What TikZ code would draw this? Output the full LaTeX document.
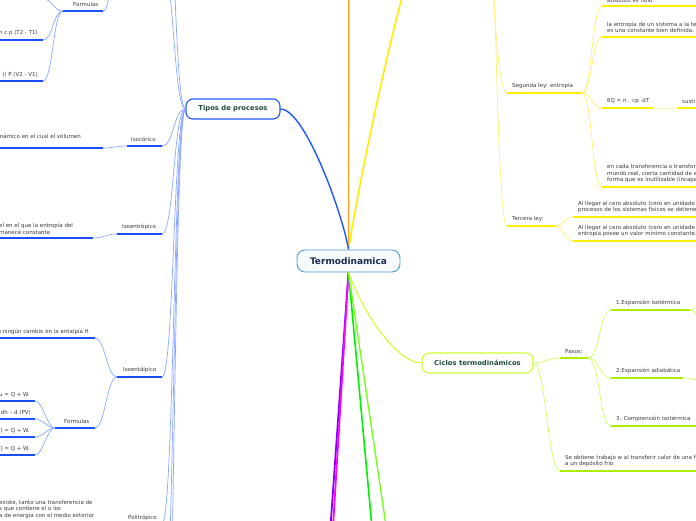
\documentclass[tikz,border=0pt]{standalone}
\usepackage{fontspec}
\setmainfont{DejaVu Sans}
\definecolor{bmain}{HTML}{1F55FF}
\definecolor{bthin}{HTML}{8AA8FF}
\definecolor{bline}{HTML}{1A4FFF}
\definecolor{ymain}{HTML}{FFEE00}
\definecolor{ythin}{HTML}{FFF27A}
\definecolor{orng}{HTML}{FFA726}
\definecolor{limec}{HTML}{CCFF33}
\definecolor{limeul}{HTML}{AAEE00}
\definecolor{limethin}{HTML}{D2FF70}
\definecolor{purp}{HTML}{7F00FF}
\definecolor{magn}{HTML}{FF00FF}
\definecolor{grn}{HTML}{00F000}
\definecolor{lgrn}{HTML}{77FF22}
\definecolor{txt}{HTML}{3A3A3A}
\definecolor{ngreen}{HTML}{1E4D3B}
\definecolor{navy}{HTML}{1B2A4E}
\definecolor{termb}{HTML}{4A9AD4}
\definecolor{termfill}{HTML}{F7FBFE}
\newcommand{\mmR}[4][]{\draw[#1] (#2) .. controls +(#4,0) and +(-#4,0) .. (#3);}
\newcommand{\mmL}[4][]{\draw[#1] (#2) .. controls +(-#4,0) and +(#4,0) .. (#3);}
\tikzset{
  lbl/.style={font=\fontsize{5.5}{6.4}\selectfont, text=txt, inner sep=0pt, align=left},
  lblR/.style={lbl, anchor=south west},
  lblL/.style={lbl, anchor=south east},
  ulB/.style={draw=bline, line width=1.3},
  thB/.style={draw=bthin, line width=0.7},
  ulY/.style={draw=ymain, line width=1.3},
  thY/.style={draw=ythin, line width=0.8},
  ulG/.style={draw=limeul, line width=1.3},
  thG/.style={draw=limethin, line width=0.8},
  termnode/.style={draw=termb, line width=0.9, fill=termfill, rounded corners=8pt,
    minimum width=103pt, minimum height=22pt, inner sep=0pt,
    font=\fontsize{9}{10}\selectfont\bfseries, text=navy},
  topicnode/.style={line width=1.1, fill=white, rounded corners=7pt,
    minimum height=20pt, inner sep=0pt,
    font=\fontsize{6.8}{8}\selectfont\bfseries, text=ngreen}
}
\begin{document}
\begin{tikzpicture}[x=1pt,y=-1pt]
\useasboundingbox (0,0) rectangle (696,520);
\clip (0,0) rectangle (696,520);

% ---------- main nodes ----------
\node[termnode] (term) at (348.5,261) {Termodinamica};
\node[topicnode, draw=bmain, minimum width=94pt] (tipos) at (233,109) {Tipos de procesos};
\node[topicnode, draw=limec, minimum width=111pt] (ciclos) at (477.5,363) {Ciclos termodinámicos};

% ---------- main connectors ----------
\coordinate (oTop) at (349,-10);
\coordinate (yTop) at (404,-10);
\coordinate (purpEnd) at (330.8,522);
\coordinate (magnEnd) at (333.3,522);
\coordinate (grnEnd) at (371.5,522);
\coordinate (lgrnEnd) at (385.5,522);
\draw[orng, line width=1.5] (term.north) -- (oTop);
\draw[ymain, line width=1.6] (term.north) .. controls (356,200) and (381,75) .. (yTop);
\draw[bmain, line width=1.4] (tipos.east) .. controls (305,109) and (343,215) .. (term.north);
\draw[purp, line width=1.8] (term.south) -- (purpEnd);
\draw[magn, line width=1.8] (term.south) -- (magnEnd);
\draw[grn, line width=1.6] (term.south) -- (grnEnd);
\draw[lgrn, line width=1.4] (term.south) -- (lgrnEnd);
\draw[limec, line width=1.1] (term.south) .. controls (362,310) and (395,362) .. (ciclos.west);

% ---------- Tipos de procesos: branches ----------
\coordinate (isobA) at (117,-35);
\coordinate (isobB) at (162,-35);
\coordinate (isotB) at (162,-180);
\coordinate (icA) at (127,146);  \coordinate (icB) at (162,146);
\coordinate (ieA) at (117,234);  \coordinate (ieB) at (162,234);
\coordinate (ihA) at (117,377);  \coordinate (ihB) at (162,377);
\coordinate (ipA) at (117,524);  \coordinate (ipB) at (162,524);
\coordinate (ixB) at (162,650);
\coordinate (iyB) at (162,800);
\mmL[thB]{tipos.west}{isobB}{12}
\mmL[thB]{tipos.west}{isotB}{12}
\mmL[thB]{tipos.west}{icB}{12}
\mmL[thB]{tipos.west}{ieB}{12}
\mmL[thB]{tipos.west}{ihB}{12}
\mmL[thB]{tipos.west}{ipB}{12}
\mmL[thB]{tipos.west}{ixB}{12}
\mmL[thB]{tipos.west}{iyB}{12}

\draw[ulB] (icA) -- (icB);
\node[lblR] (isocorico) at (131,142) {Isocórico};
\draw[ulB] (ieA) -- (ieB);
\node[lblR] (isoentro) at (122,230) {Isoentrópico};
\draw[ulB] (ihA) -- (ihB);
\node[lblR] (isoental) at (123,373) {Isoentálpico};
\draw[ulB] (ipA) -- (ipB);
\node[lblR] (politro) at (128,520.5) {Politrópico};

% Formulas (top)
\coordinate (f1A) at (63,11); \coordinate (f1B) at (103,11);
\draw[ulB] (f1A) -- (f1B);
\node[lblR] (form1) at (73,7) {Formulas};
\mmR[thB]{f1B}{isobA}{8}
\coordinate (f1aB) at (43,-1); \coordinate (f1aA) at (-5,-1);
\coordinate (f1bB) at (43,40); \coordinate (f1bA) at (0,40);
\coordinate (f1cB) at (43,81); \coordinate (f1cA) at (0,81);
\mmL[thB]{f1A}{f1aB}{10}
\mmL[thB]{f1A}{f1bB}{10}
\mmL[thB]{f1A}{f1cB}{10}
\draw[ulB] (f1aA) -- (f1aB);
\draw[ulB] (f1bA) -- (f1bB);
\draw[ulB] (f1cA) -- (f1cB);
\node[lblL] (fb) at (38,36) {n c p (T2 - T1)};
\node[lblL] (fc) at (38,77) {)) P (V2 - V1)};

% Isocorico child
\coordinate (icc1A) at (0,148); \coordinate (icc1B) at (103,148);
\draw[ulB] (icc1A) -- (icc1B);
\mmL[thB]{icA}{icc1B}{10}
\node[lblL] (icctext) at (81,138.5) {inámico en el cual el volumen};

% Isoentropico child
\coordinate (iec1A) at (0,238); \coordinate (iec1B) at (93,238);
\draw[ulB] (iec1A) -- (iec1B);
\mmL[thB]{ieA}{iec1B}{10}
\node[lblR] (iectext) at (-1,234.5) {el en el que la entropía del\\manece constante};

% Isoentalpico children
\coordinate (ihc1A) at (0,338); \coordinate (ihc1B) at (95,338);
\draw[ulB] (ihc1A) -- (ihc1B);
\mmL[thB]{ihA}{ihc1B}{10}
\node[lblL] (ihctext) at (89,334.5) {n ningún cambio en la entalpía H};
\coordinate (f2A) at (55,428); \coordinate (f2B) at (95,428);
\draw[ulB] (f2A) -- (f2B);
\mmL[thB]{ihA}{f2B}{10}
\node[lblR] (form2) at (64,424) {Formulas};
\coordinate (f2aA) at (0,401); \coordinate (f2aB) at (35,401);
\coordinate (f2bA) at (0,419); \coordinate (f2bB) at (35,419);
\coordinate (f2cA) at (0,437); \coordinate (f2cB) at (35,437);
\coordinate (f2dA) at (0,455); \coordinate (f2dB) at (35,455);
\foreach \c in {f2a,f2b,f2c,f2d}{
  \draw[ulB] (\c A) -- (\c B);
  \mmL[thB]{f2A}{\c B}{8}
}
\node[lblL] (f2at) at (30,397) {u = Q + W.};
\node[lblL] (f2bt) at (31,415) {dh – d (PV)};
\node[lblL] (f2ct) at (30,433) {) = Q + W.};
\node[lblL] (f2dt) at (30,451) {] = Q + W.};

% Politropico child
\node[lblR] (iptext) at (-1,518.5) {existe, tanto una transferencia de\\s que contiene el o los\\a de energía con el medio exterior};

% ---------- Leyes (yellow) ----------
\coordinate (leyes) at (490,-60);
\coordinate (leyes2) at (493,-60);
\coordinate (segA) at (507,93); \coordinate (segB) at (582,93);
\coordinate (terA) at (507,226); \coordinate (terB) at (555,226);
\draw[thY] (leyes) .. controls (493,-20) and (497,93) .. (segA);
\draw[thY] (leyes2) .. controls (496,40) and (499,226) .. (terA);
\draw[ulY] (segA) -- (segB);
\node[lblR] (segunda) at (512,89) {Segunda ley: entropía};
\draw[ulY] (terA) -- (terB);
\node[lblR] (tercera) at (512,222) {Tercera ley:};

\coordinate (s1A) at (602,6);   \coordinate (s1B) at (700,6);
\coordinate (s2A) at (602,37);  \coordinate (s2B) at (700,37);
\coordinate (s3A) at (602,108); \coordinate (s3B) at (653,108);
\coordinate (s3cA) at (678,108); \coordinate (s3cB) at (700,108);
\coordinate (s4A) at (602,187); \coordinate (s4B) at (700,187);
\mmR[thY]{segB}{s1A}{10}
\mmR[thY]{segB}{s2A}{10}
\mmR[thY]{segB}{s3A}{10}
\mmR[thY]{segB}{s4A}{10}
\mmR[thY]{s3B}{s3cA}{8}
\draw[ulY] (s1A) -- (s1B);
\draw[ulY] (s2A) -- (s2B);
\draw[ulY] (s3A) -- (s3B);
\draw[ulY] (s3cA) -- (s3cB);
\draw[ulY] (s4A) -- (s4B);
\node[lblR] (s1t) at (607,2.8) {absoluto es nulo};
\node[lblR] (s2t) at (607,33) {la entropía de un sistema a la te\\es una constante bien definida.};
\node[lblR] (s3t) at (607,104) {δQ = n . cp .dT};
\node[lblR] (s3ct) at (682,104) {susti};
\node[lblR] (s4t) at (607,183) {en cada transferencia o transfor\\mundo real, cierta cantidad de e\\forma que es inutilizable (incapa};

\coordinate (t1A) at (573,217); \coordinate (t1B) at (700,217);
\coordinate (t2A) at (573,241); \coordinate (t2B) at (700,241);
\mmR[thY]{terB}{t1A}{9}
\mmR[thY]{terB}{t2A}{9}
\draw[ulY] (t1A) -- (t1B);
\draw[ulY] (t2A) -- (t2B);
\node[lblR] (t1t) at (578,213) {Al llegar al cero absoluto (cero en unidade\\procesos de los sistemas físicos se detienen};
\node[lblR] (t2t) at (578,237) {Al llegar al cero absoluto (cero en unidade\\entropía posee un valor mínimo constante.};

% ---------- Ciclos (lime) ----------
\coordinate (pasA) at (560,358); \coordinate (pasB) at (588,358);
\coordinate (soA) at (560,471);  \coordinate (soB) at (700,471);
\mmR[thG]{ciclos.east}{pasA}{12}
\mmR[thG]{ciclos.east}{soA}{12}
\draw[ulG] (pasA) -- (pasB);
\draw[ulG] (soA) -- (soB);
\node[lblR] (pasos) at (565,354) {Pasos:};
\node[lblR] (sot) at (565,467) {Se obtiene trabajo w al transferir calor de una f\\a un depósito frío};

\coordinate (p1A) at (611,310); \coordinate (p1B) at (690,310);
\coordinate (p2A) at (611,378); \coordinate (p2B) at (683,378);
\coordinate (p3A) at (611,426); \coordinate (p3B) at (700,426);
\coordinate (p1u) at (715,285); \coordinate (p1d) at (715,340);
\coordinate (p2c) at (706,381);
\mmR[thG]{pasB}{p1A}{12}
\mmR[thG]{pasB}{p2A}{12}
\mmR[thG]{pasB}{p3A}{12}
\mmR[thG]{p1B}{p1u}{10}
\mmR[thG]{p1B}{p1d}{10}
\mmR[thG]{p2B}{p2c}{8}
\draw[ulG] (p1A) -- (p1B);
\draw[ulG] (p2A) -- (p2B);
\draw[ulG] (p3A) -- (p3B);
\node[lblR] (p1t) at (616,306) {1.Expansión isotérmica};
\node[lblR] (p2t) at (616,374) {2.Expansión adiabática};
\node[lblR] (p3t) at (616,422) {3. Comprensión isotérmica};
\end{tikzpicture}
\end{document}
